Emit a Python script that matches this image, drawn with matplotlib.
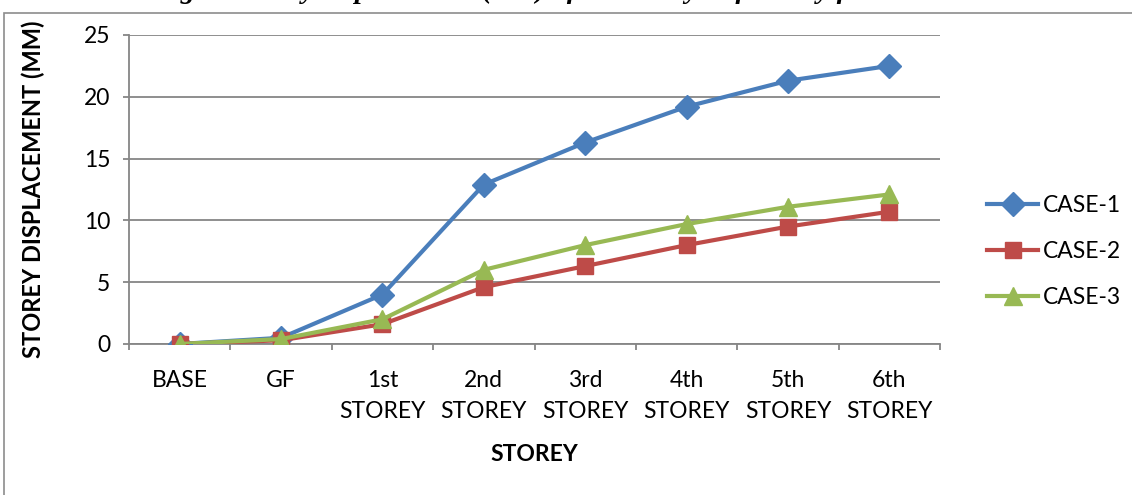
import matplotlib.pyplot as plt
from matplotlib.patches import Rectangle

# Data
storeys = ["BASE", "GF", "1st\nSTOREY", "2nd\nSTOREY", "3rd\nSTOREY",
           "4th\nSTOREY", "5th\nSTOREY", "6th\nSTOREY"]
case1 = [0.0, 0.5, 4.0, 12.9, 16.3, 19.2, 21.3, 22.5]
case2 = [0.0, 0.3, 1.6, 4.6, 6.3, 8.0, 9.5, 10.7]
case3 = [0.0, 0.4, 2.0, 6.0, 8.0, 9.7, 11.1, 12.1]

plt.rcParams['font.family'] = ['Lato', 'DejaVu Sans']

fig = plt.figure(figsize=(11.32, 4.95), dpi=100)
ax = fig.add_axes([0.1140, 0.3051, 0.7164, 0.6242])

# outer chart border (partly cut off like the source image)
fig.patches.append(Rectangle((4 / 1132, -0.1), 1.2, (495 - 13) / 495 + 0.1,
                             transform=fig.transFigure, fill=False,
                             edgecolor='#8c8c8c', linewidth=1.2))

# caption of the figure, cut off at the top edge of the image
fig.text(0.5, 1.0 + 2 / 495, "Fig. 4: Storey displacement (mm) of 4th storey Soft storey for all cases",
         ha='center', va='baseline', fontsize=20.5, fontweight='bold', fontstyle='italic',
         family='Liberation Serif')

x = range(len(storeys))
ax.plot(x, case1, color='#4a7ebb', lw=3, marker='D', ms=12, label='CASE-1', zorder=3)
ax.plot(x, case2, color='#be4b48', lw=3, marker='s', ms=12, label='CASE-2', zorder=3)
ax.plot(x, case3, color='#98b954', lw=3, marker='^', ms=13, label='CASE-3', zorder=4)

ax.set_xlim(-0.5, 7.5)
ax.set_ylim(0, 25)
ax.set_yticks([0, 5, 10, 15, 20, 25])
ax.set_xticks(list(x))
ax.set_xticklabels(storeys, fontsize=16.5, linespacing=1.55, va='top')
ax.set_xticks([i - 0.5 for i in range(len(storeys) + 1)], minor=True)
ax.tick_params(axis='x', which='major', length=0, pad=19)
ax.tick_params(axis='x', which='minor', length=4.5, width=1.3, color='#868686')
ax.tick_params(axis='y', length=4.5, width=1.3, color='#868686', labelsize=16.5, pad=9)

ax.grid(axis='y', color='#868686', lw=1.3)
ax.set_axisbelow(True)
for s in ['top', 'right']:
    ax.spines[s].set_visible(False)
for s in ['left', 'bottom']:
    ax.spines[s].set_color('#868686')
    ax.spines[s].set_linewidth(1.3)

ax.set_xlabel('STOREY', fontsize=16.5, fontweight='bold', labelpad=16)
ax.set_ylabel('STOREY DISPLACEMENT (MM)', fontsize=17, fontweight='bold', labelpad=28)

ax.legend(loc='center left', bbox_to_anchor=(1.033, 0.30), frameon=False, fontsize=16.5,
          handlelength=2.2, labelspacing=1.1, handletextpad=0.2)

fig.savefig('out.png', dpi=100)
